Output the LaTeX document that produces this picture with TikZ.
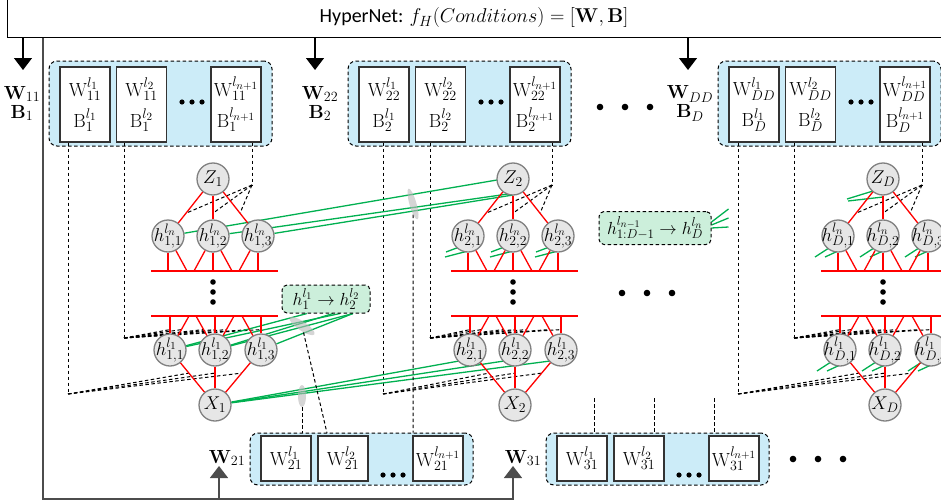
\RequirePackage{fix-cm}
\documentclass[tikz,border=0pt]{standalone}
\usepackage[no-math]{fontspec}
\newfontfamily\carlito{Carlito}
\def\defaultscriptratio{.74}
\def\defaultscriptscriptratio{.58}
\usetikzlibrary{arrows.meta,calc,shapes.geometric}
\definecolor{bfill}{HTML}{CCECF8}
\definecolor{gfill}{HTML}{CCEFDB}
\definecolor{gline}{HTML}{00B050}
\definecolor{nfill}{HTML}{E6E6E6}
\definecolor{ndraw}{HTML}{808080}
\pgfdeclarelayer{back}
\pgfdeclarelayer{mid}
\pgfsetlayers{back,mid,main}
\begin{document}
\begin{tikzpicture}[x=1pt,y=-1pt,
 neur/.style={circle,draw=ndraw,fill=nfill,line width=1.3pt,minimum size=32pt,inner sep=0pt},
 nlab/.style={inner sep=0pt,font=\fontsize{18.5}{18.5}\selectfont},
 rline/.style={red,line width=1.3pt},
 rbar/.style={red,line width=1.8pt},
 gln/.style={draw=gline,line width=1.3pt},
 dsh/.style={black,line width=1pt,dash pattern=on 3.5pt off 2.5pt},
 grpbox/.style={draw=black,fill=bfill,rounded corners=8pt,line width=1pt,dash pattern=on 3.5pt off 2.5pt,inner sep=0pt},
 wbox/.style={draw=black!80,fill=white,line width=1.3pt,minimum width=50pt,inner sep=0pt,align=center,font=\fontsize{19}{31}\selectfont},
 glbl/.style={font=\fontsize{19}{19}\selectfont,inner sep=1pt},
 arr/.style={line width=1.2pt,-{Triangle[width=18pt,length=12pt]}},
 gbox/.style={draw=black,fill=gfill,rounded corners=5pt,line width=1pt,dash pattern=on 3.5pt off 2.5pt,inner sep=2pt,font=\fontsize{17.5}{17.5}\selectfont},
 blob/.style={ellipse,fill=gray!55,opacity=0.6,inner sep=0pt},
]
\useasboundingbox (0,0) rectangle (941,503);

% HyperNet box
\node[draw=black,line width=1.3pt,minimum width=960pt,minimum height=50pt,anchor=south west,inner sep=0pt] (hyper) at (7,38) {};
\node[font=\carlito\fontsize{20}{20}\selectfont] (htxt) at (474,18) {HyperNet: $f_H(Conditions)=[\mathbf{W},\mathbf{B}]$};

\foreach \ax/\ci in {23/1,315/2,688/3}{
  \coordinate (ar\ci) at (\ax,70);
  \draw[arr] (ar\ci |- hyper.south) -- (ar\ci);
}
\foreach \lx/\ci/\s in {22/1/1,320/2/2,690/3/D}{
  \node[glbl] (lw\ci) at (\lx,94) {$\mathbf{W}_{\s\s}$};
  \node[glbl] (lb\ci) at (\lx,113) {$\mathbf{B}_{\s}$};
}

% top weight groups
\foreach \ci/\gx/\s in {1/0/1,2/299/2,3/669/D}{
  \begin{pgfonlayer}{back}
  \node[grpbox,minimum width=223pt,minimum height=85pt] (g\ci) at (160.5+\gx,103.5) {};
  \end{pgfonlayer}
  \node[wbox,minimum height=75pt] (t\ci1) at (85+\gx,104.5) {$\mathrm{W}^{l_1}_{\s\s}$\\$\mathrm{B}^{l_1}_{\s}$};
  \node[wbox,minimum height=75pt] (t\ci2) at (141.5+\gx,104.5) {$\mathrm{W}^{l_2}_{\s\s}$\\$\mathrm{B}^{l_2}_{\s}$};
  \node[wbox,minimum height=75pt] (t\ci3) at (236+\gx,104.5) {$\mathrm{W}^{l_{n+1}}_{\s\s}$\\$\mathrm{B}^{l_{n+1}}_{\s}$};
  \foreach \dx in {182,192,202} \fill (\dx+\gx,102) circle (2.6pt);
}

% columns
\foreach \ci/\ox/\s/\da/\db/\dc in {1/0/1/68/124/252,2/300/2/383/430/552,3/670/D/738/794/922}{
  \node[neur,label={[nlab]center:$Z_{\s}$}] (Z\ci) at (213+\ox,179) {};
  \node[neur,label={[nlab]center:$h^{l_n}_{\s,1}$}] (a\ci1) at (168+\ox,236) {};
  \node[neur,label={[nlab]center:$h^{l_n}_{\s,2}$}] (a\ci2) at (213+\ox,236) {};
  \node[neur,label={[nlab]center:$h^{l_n}_{\s,3}$}] (a\ci3) at (258+\ox,236) {};
  \node[neur,label={[nlab]center:$h^{l_1}_{\s,1}$}] (b\ci1) at (170+\ox,350) {};
  \node[neur,label={[nlab]center:$h^{l_1}_{\s,2}$}] (b\ci2) at (215+\ox,350) {};
  \node[neur,label={[nlab]center:$h^{l_1}_{\s,3}$}] (b\ci3) at (261+\ox,350) {};
  \node[neur,label={[nlab]center:$X_{\s}$}] (X\ci) at (215+\ox,405) {};
  \foreach \k/\ux/\vx in {1/168/170,2/187/189,3/194/196,4/213/215,5/232/234,6/239/242,7/258/261}{
    \coordinate (u\ci\k) at (\ux+\ox,271);
    \coordinate (v\ci\k) at (\vx+\ox,316);
  }
  \coordinate (ubl\ci) at (151+\ox,271); \coordinate (ubr\ci) at (278+\ox,271);
  \coordinate (vbl\ci) at (151+\ox,316); \coordinate (vbr\ci) at (278+\ox,316);
  \draw[rbar] (ubl\ci) -- (ubr\ci);
  \draw[rbar] (vbl\ci) -- (vbr\ci);
  \foreach \k in {1,2,3}{
    \draw[rline] (Z\ci) -- (a\ci\k);
    \draw[rline] (X\ci) -- (b\ci\k);
  }
  \foreach \k/\nn in {1/1,2/1,3/2,4/2,5/2,6/3,7/3}{
    \draw[rline] (a\ci\nn) -- (u\ci\k);
    \draw[rline] (b\ci\nn) -- (v\ci\k);
  }
  \foreach \dy in {282,292,302} \fill (213+\ox,\dy) circle (2.8pt);
  \coordinate (k1\ci) at (\da,394);
  \coordinate (k2\ci) at (\db,338);
  \coordinate (k3\ci) at (\dc,185);
  \begin{pgfonlayer}{mid}
  \draw[dsh] (k1\ci |- t\ci1.south) -- (k1\ci);
  \draw[dsh] (k2\ci |- t\ci2.south) -- (k2\ci);
  \draw[dsh] (k3\ci |- t\ci3.south) -- (k3\ci);
  \foreach \k in {1,2,3}{
    \draw[dsh] (k1\ci) -- ($(X\ci)!0.58!(b\ci\k)$);
    \draw[dsh] (k3\ci) -- ($(Z\ci)!0.6!(a\ci\k)$);
  }
  \foreach \k/\nn in {1/1,2/1,3/2,4/2,5/2,6/3,7/3}
    \draw[dsh] (k2\ci) -- ($(v\ci\k)!0.4!(b\ci\nn)$);
  \end{pgfonlayer}
}

% green boxes
\node[gbox,minimum width=88pt,minimum height=28pt] (gb1) at (326,299) {$h^{l_1}_1 \rightarrow h^{l_2}_2$};
\node[gbox,minimum width=112pt,minimum height=33pt] (gb2) at (655,228) {$h^{l_{n-1}}_{1:D-1} \rightarrow h^{l_n}_D$};

% green connections
\begin{pgfonlayer}{mid}
\draw[gln] (a11) -- ($(Z2)+(-16,1)$);
\draw[gln] (a12) -- ($(Z2)+(-5,15)$);
\draw[gln] (a13) -- ($(Z2)+(0,16)$);
\draw[gln] (b11) -- ($(gb1.south)+(-19,0)$);
\draw[gln] (b11) -- ($(gb1.south)+(14,0)$);
\draw[gln] (b12) -- ($(gb1.south)+(7,0)$);
\draw[gln] (b12) -- ($(gb1.south)+(27,0)$);
\draw[gln] (b13) -- ($(gb1.south)+(27,0)$);
\foreach \k in {1,2,3} \draw[gln] (X1) -- ($(b2\k)+(-11,11)$);
\foreach \k in {1,2,3}{
  \draw[gln] ($(a2\k)+(-23,21)$) -- ($(a2\k)+(0,15)$);
  \draw[gln] ($(a2\k)+(-22,16)$) -- ($(a2\k)+(-6,10)$);
  \draw[gln] ($(a3\k)+(-23,21)$) -- ($(a3\k)+(-6,10)$);
  \draw[gln] ($(a3\k)+(-13,21)$) -- ($(a3\k)+(0,15)$);
  \draw[gln] ($(b3\k)+(-23,21)$) -- ($(b3\k)+(-6,10)$);
  \draw[gln] ($(b3\k)+(-13,21)$) -- ($(b3\k)+(0,15)$);
}
\draw[gln] ($(Z3)+(-36,20)$) -- ($(Z3)+(-10,12)$);
\draw[gln] ($(Z3)+(-35,22)$) -- ($(Z3)+(0,18)$);
\draw[gln] ($(gb2.east)+(0,-6)$) -- ($(gb2.east)+(17,-19)$);
\draw[gln] ($(gb2.east)+(0,-3)$) -- ($(gb2.east)+(17,-10)$);
\draw[gln] ($(gb2.east)+(0,0)$) -- ($(gb2.east)+(17,-1)$);
\end{pgfonlayer}

% bottom groups
\begin{pgfonlayer}{back}
\node[grpbox,minimum width=223pt,minimum height=52pt] (g4) at (361.5,459) {};
\node[grpbox,minimum width=223pt,minimum height=52pt] (g5) at (657.5,459) {};
\end{pgfonlayer}
\node[wbox,minimum height=45pt] (w1) at (286,458.5) {$\mathrm{W}^{l_1}_{21}$};
\node[wbox,minimum height=45pt] (w2) at (343,458.5) {$\mathrm{W}^{l_2}_{21}$};
\node[wbox,minimum height=45pt] (w3) at (438,458.5) {$\mathrm{W}^{l_{n+1}}_{21}$};
\node[wbox,minimum height=45pt] (w4) at (582,458.5) {$\mathrm{W}^{l_1}_{31}$};
\node[wbox,minimum height=45pt] (w5) at (639,458.5) {$\mathrm{W}^{l_2}_{31}$};
\node[wbox,minimum height=45pt] (w6) at (734,458.5) {$\mathrm{W}^{l_{n+1}}_{31}$};
\foreach \dx in {383,393,403,679,689,699} \fill (\dx,475) circle (2.6pt);
\node[glbl] (lw21) at (227,458) {$\mathbf{W}_{21}$};
\node[glbl] (lw31) at (523,458) {$\mathbf{W}_{31}$};

% feedback path
\coordinate (c1) at (43,499);
\coordinate (c2) at (513,466);
\coordinate (c3) at (219,466);
\draw[arr,black!70,line width=1.5pt] (c1 |- hyper.south) -- (c1) -- (c1 -| c2) -- (c2);
\draw[arr,black!70,line width=1.5pt] (c1 -| c3) -- (c3);

% big dots
\foreach \px/\py in {600/107,625/107,650/107,622/293,647/293,672/293,793/459,818/459,843/459}
  \fill (\px,\py) circle (3.3pt);

% cut marks
\node[blob,minimum width=7pt,minimum height=32pt,rotate=16] (e1) at (413,204) {};
\node[blob,minimum width=9pt,minimum height=30pt,rotate=56] (e2) at (302,326) {};
\node[blob,minimum width=8pt,minimum height=22pt] (e3) at (302,396) {};
\coordinate (p2) at (327,433);
\begin{pgfonlayer}{mid}
\draw[dsh] (e3) -- (e3 |- g4.north);
\draw[dsh] (e2) -- (p2);
\draw[dsh] (e1) -- (e1 |- g4.north);
\foreach \qx in {594,654,714}{
  \coordinate (q\qx) at (\qx,398);
  \draw[dsh] (q\qx) -- (q\qx |- g5.north);
}
\end{pgfonlayer}
\end{tikzpicture}
\end{document}
